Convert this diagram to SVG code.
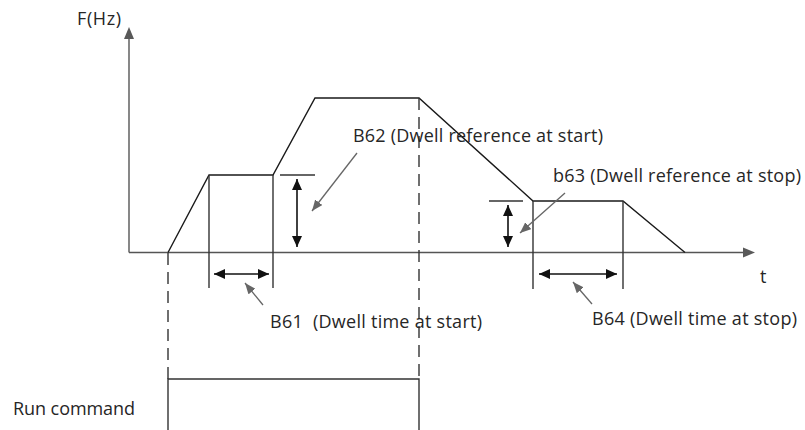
<svg xmlns="http://www.w3.org/2000/svg" width="805" height="430" viewBox="0 0 805 430">
<style>
text{font-family:"Open Sans","Liberation Sans",Arial,sans-serif;font-size:18px;fill:#262626}
.ax{stroke:#555;stroke-width:1.4;fill:none}
.pr{stroke:#1a1a1a;stroke-width:1.4;fill:none;stroke-linejoin:miter}
.vl{stroke:#333;stroke-width:1.4;fill:none}
.dash{stroke:#333;stroke-width:1.4;stroke-dasharray:12 7;fill:none}
.dbl{stroke:#111;stroke-width:1.6;fill:none;marker-start:url(#ah);marker-end:url(#ah)}
.lead{stroke:#666;stroke-width:1.3;fill:none;marker-end:url(#ga)}
</style>
<defs>
<marker id="ah" viewBox="0 0 11 10" refX="11" refY="5" markerWidth="11" markerHeight="10" orient="auto-start-reverse" markerUnits="userSpaceOnUse"><path d="M0,0 L11,5 L0,10 z" fill="#111"/></marker>
<marker id="ga" viewBox="0 0 11 9" refX="11" refY="4.5" markerWidth="11" markerHeight="9" orient="auto" markerUnits="userSpaceOnUse"><path d="M0,0 L11,4.5 L0,9 z" fill="#666"/></marker>
</defs>
<g id="axes">
<line class="ax" x1="129" y1="252.5" x2="129" y2="37"/>
<polygon points="129,27 124,39 134,39" fill="#595959"/>
<line class="ax" x1="129" y1="252.5" x2="745" y2="252.5"/>
<polygon points="755,252.5 743,247.5 743,257.5" fill="#595959"/>
<text x="77" y="25" textLength="44">F(Hz)</text>
<text x="760" y="283">t</text>
</g>
<g id="profile">
<polyline class="pr" points="168,252.5 209,175 273,175 315,98 419,98 533,201 623,201 685,252.5"/>
<line class="vl" x1="209" y1="175" x2="209" y2="288"/>
<line class="vl" x1="273" y1="175" x2="273" y2="288"/>
<line class="vl" x1="533" y1="201" x2="533" y2="289"/>
<line class="vl" x1="623" y1="201" x2="623" y2="289"/>
<line class="vl" x1="280" y1="175" x2="315" y2="175"/>
<line class="vl" x1="489" y1="201" x2="523" y2="201"/>
</g>
<g id="connectors">
<line class="dbl" x1="297" y1="179" x2="297" y2="247"/>
<line class="dbl" x1="214" y1="274" x2="269" y2="274"/>
<line class="dbl" x1="508" y1="205" x2="508" y2="247"/>
<line class="dbl" x1="539" y1="274" x2="617" y2="274"/>
<line class="lead" x1="357" y1="153" x2="312" y2="211"/>
<line class="lead" x1="263" y1="305" x2="245" y2="283"/>
<line class="lead" x1="565" y1="193" x2="520" y2="233"/>
<line class="lead" x1="592" y1="304" x2="573" y2="282"/>
<line class="dash" x1="168" y1="253" x2="168" y2="379"/>
<line class="dash" x1="419" y1="98" x2="419" y2="379"/>
</g>
<g id="run-command">
<path class="vl" d="M168,430 V379 H419 V430"/>
<text x="13" y="415" textLength="122">Run command</text>
</g>
<g id="labels">
<text x="353" y="142" textLength="250">B62 (Dwell reference at start)</text>
<text x="553" y="182" textLength="248">b63 (Dwell reference at stop)</text>
<text x="270" y="328" textLength="212" xml:space="preserve">B61  (Dwell time at start)</text>
<text x="592" y="325" textLength="205">B64 (Dwell time at stop)</text>
</g>
</svg>
